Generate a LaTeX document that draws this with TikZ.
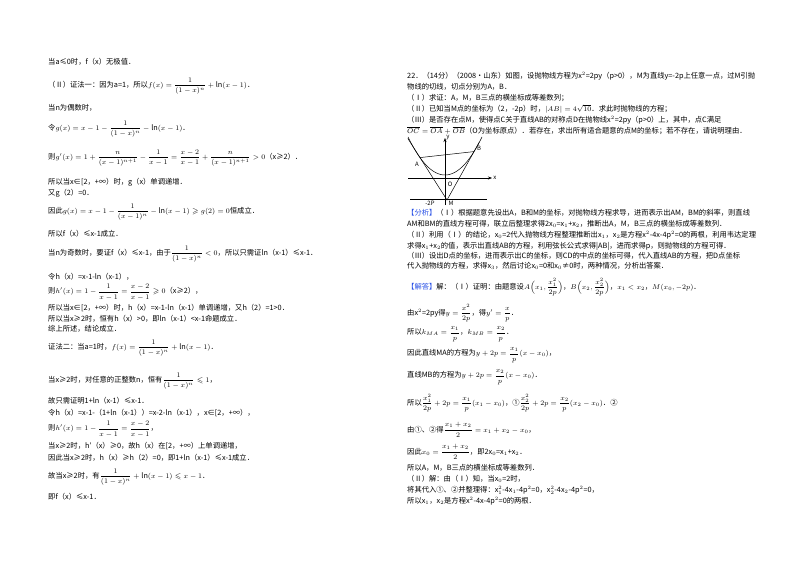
\documentclass[tikz,border=0pt]{standalone}
\usepackage{amsmath,amssymb}
\usepackage{fontspec}
\setmainfont{Noto Sans CJK SC}
\usetikzlibrary{arrows.meta,calc}
\definecolor{hl}{RGB}{40,80,230}
\tikzset{t/.style={anchor=west,inner sep=0pt,font=\fontsize{7.3}{8}\selectfont},
 ax/.style={-{Stealth[length=4pt]},line width=0.5pt},
 cv/.style={line width=0.5pt},
 lb/.style={font=\fontsize{6}{6}\selectfont\itshape,inner sep=1pt}}
\newcommand{\fr}[2]{\dfrac{#1}{#2}}
\begin{document}
\begin{tikzpicture}[x=1pt,y=-1pt]
\useasboundingbox (0,0) rectangle (800,565);
\fill[white] (0,0) rectangle (800,565);
% left column
\node[t] (l1) at (48,62) {当a≤0时，f（x）无极值．};
\node[t] (l2) at (48,86) {（Ⅱ）证法一：因为a=1，所以$f(x)=\fr{1}{(1-x)^n}+\ln(x-1)$．};
\node[t] (l3) at (48,108) {当n为偶数时，};
\node[t] (l4) at (48,129) {令$g(x)=x-1-\fr{1}{(1-x)^n}-\ln(x-1)$．};
\node[t] (l5) at (48,158) {则$g'(x)=1+\fr{n}{(x-1)^{n+1}}-\fr{1}{x-1}=\fr{x-2}{x-1}+\fr{n}{(x-1)^{n+1}}>0$（x≥2）．};
\node[t] (l6) at (48,182) {所以当x∈[2，+∞）时，g（x）单调递增．};
\node[t] (l7) at (48,193) {又g（2）=0．};
\node[t] (l8) at (48,212) {因此$g(x)=x-1-\fr{1}{(x-1)^n}-\ln(x-1)\geqslant g(2)=0$恒成立．};
\node[t] (l9) at (48,234) {所以f（x）≤x-1成立．};
\node[t] (l10) at (48,254) {当n为奇数时，要证f（x）≤x-1，由于$\fr{1}{(1-x)^n}<0$，所以只需证ln（x-1）≤x-1．};
\node[t] (l11) at (48,277) {令h（x）=x-1-ln（x-1），};
\node[t] (l12) at (48,292) {则$h'(x)=1-\fr{1}{x-1}=\fr{x-2}{x-1}\geqslant0$（x≥2），};
\node[t] (l13) at (48,308) {所以当x∈[2，+∞）时，h（x）=x-1-ln（x-1）单调递增，又h（2）=1>0．};
\node[t] (l14) at (48,319) {所以当x≥2时，恒有h（x）>0，即ln（x-1）<x-1命题成立．};
\node[t] (l15) at (48,329) {综上所述，结论成立．};
\node[t] (l16) at (48,348) {证法二：当a=1时，$f(x)=\fr{1}{(1-x)^n}+\ln(x-1)$．};
\node[t] (l17) at (48,381) {当x≥2时，对任意的正整数n，恒有$\fr{1}{(1-x)^n}\leqslant1$，};
\node[t] (l18) at (48,401) {故只需证明1+ln（x-1）≤x-1．};
\node[t] (l19) at (48,413) {令h（x）=x-1-（1+ln（x-1））=x-2-ln（x-1），x∈[2，+∞），};
\node[t] (l20) at (48,429) {则$h'(x)=1-\fr{1}{x-1}=\fr{x-2}{x-1}$，};
\node[t] (l21) at (48,446) {当x≥2时，h′（x）≥0，故h（x）在[2，+∞）上单调递增，};
\node[t] (l22) at (48,458) {因此当x≥2时，h（x）≥h（2）=0，即1+ln（x-1）≤x-1成立．};
\node[t] (l23) at (48,477) {故当x≥2时，有$\fr{1}{(1-x)^n}+\ln(x-1)\leqslant x-1$．};
\node[t] (l24) at (48,497) {即f（x）≤x-1．};
% right column
\node[t] (r1) at (407,76) {22．（14分）（2008•山东）如图，设抛物线方程为x$^2$=2py（p>0），M为直线y=-2p上任意一点，过M引抛};
\node[t] (r2) at (407,87) {物线的切线，切点分别为A，B．};
\node[t] (r3) at (407,98) {（Ⅰ）求证：A，M，B三点的横坐标成等差数列；};
\node[t] (r4) at (407,109) {（Ⅱ）已知当M点的坐标为（2，-2p）时，$|AB|=4\sqrt{10}$．求此时抛物线的方程；};
\node[t] (r5) at (407,120) {（Ⅲ）是否存在点M，使得点C关于直线AB的对称点D在抛物线x$^2$=2py（p>0）上，其中，点C满足};
\node[t] (r6) at (407,131) {$\overline{OC}=\overline{OA}+\overline{OB}$（O为坐标原点）．若存在，求出所有适合题意的点M的坐标；若不存在，请说明理由．};
% figure
\draw[ax] (408,178) -- (492,178) node[right,lb] (xl) {x};
\draw[ax] (445,205) -- (445,138) node[right,lb] (yl) {y};
\draw[cv] (410,199) -- (487,199);
\draw[cv,domain=-37:37,samples=60] plot ({445+\x},{175-0.0278*\x*\x});
\coordinate (A) at (420,157.6);
\coordinate (B) at (474,151.6);
\coordinate (M) at (447,200);
\draw[cv] (A) -- (B);
\draw[cv] ($(M)!1.45!(A)$) -- (M) -- ($(M)!1.2!(B)$);
\node[lb] (Al) at (417,164) {A};
\node[lb] (Bl) at (479,148) {B};
\node[lb] (Ol) at (450,184) {O};
\node[lb] (Ml) at (451,203) {M};
\node[lb] (pl) at (430,203) {-2P};
% analysis
\node[t] (r7) at (407,213) {{\color{hl}【分析】}（Ⅰ）根据题意先设出A，B和M的坐标，对抛物线方程求导，进而表示出AM，BM的斜率，则直线};
\node[t] (r8) at (407,224) {AM和BM的直线方程可得，联立后整理求得2x$_0$=x$_1$+x$_2$，推断出A，M，B三点的横坐标成等差数列．};
\node[t] (r9) at (407,235) {（Ⅱ）利用（Ⅰ）的结论，x$_0$=2代入抛物线方程整理推断出x$_1$，x$_2$是方程x$^2$-4x-4p$^2$=0的两根，利用韦达定理};
\node[t] (r10) at (407,246) {求得x$_1$+x$_2$的值，表示出直线AB的方程，利用弦长公式求得|AB|，进而求得p，则抛物线的方程可得．};
\node[t] (r11) at (407,256) {（Ⅲ）设出D点的坐标，进而表示出C的坐标，则CD的中点的坐标可得，代入直线AB的方程，把D点坐标};
\node[t] (r12) at (407,266) {代入抛物线的方程，求得x$_3$，然后讨论x$_0$=0和x$_0$≠0时，两种情况，分析出答案．};
\node[t] (r13) at (407,287) {{\color{hl}【解答】}解：（Ⅰ）证明：由题意设$A\Big(x_1,\fr{x_1^2}{2p}\Big)$，$B\Big(x_2,\fr{x_2^2}{2p}\Big)$，$x_1<x_2$，$M(x_0,-2p)$．};
\node[t] (r14) at (407,313) {由x$^2$=2py得$y=\fr{x^2}{2p}$，得$y'=\fr{x}{p}$．};
\node[t] (r15) at (407,334) {所以$k_{MA}=\fr{x_1}{p}$，$k_{MB}=\fr{x_2}{p}$．};
\node[t] (r16) at (407,355) {因此直线MA的方程为$y+2p=\fr{x_1}{p}(x-x_0)$，};
\node[t] (r17) at (407,377) {直线MB的方程为$y+2p=\fr{x_2}{p}(x-x_0)$．};
\node[t] (r18) at (407,403) {所以$\fr{x_1^2}{2p}+2p=\fr{x_1}{p}(x_1-x_0)$，①$\fr{x_2^2}{2p}+2p=\fr{x_2}{p}(x_2-x_0)$．②};
\node[t] (r19) at (407,430) {由①、②得$\fr{x_1+x_2}{2}=x_1+x_2-x_0$，};
\node[t] (r20) at (407,452) {因此$x_0=\fr{x_1+x_2}{2}$，即2x$_0$=x$_1$+x$_2$．};
\node[t] (r21) at (407,468) {所以A，M，B三点的横坐标成等差数列．};
\node[t] (r22) at (407,479) {（Ⅱ）解：由（Ⅰ）知，当x$_0$=2时，};
\node[t] (r23) at (407,490) {将其代入①、②并整理得：x$_1^2$-4x$_1$-4p$^2$=0，x$_2^2$-4x$_2$-4p$^2$=0，};
\node[t] (r24) at (407,501) {所以x$_1$，x$_2$是方程x$^2$-4x-4p$^2$=0的两根．};
\end{tikzpicture}
\end{document}
